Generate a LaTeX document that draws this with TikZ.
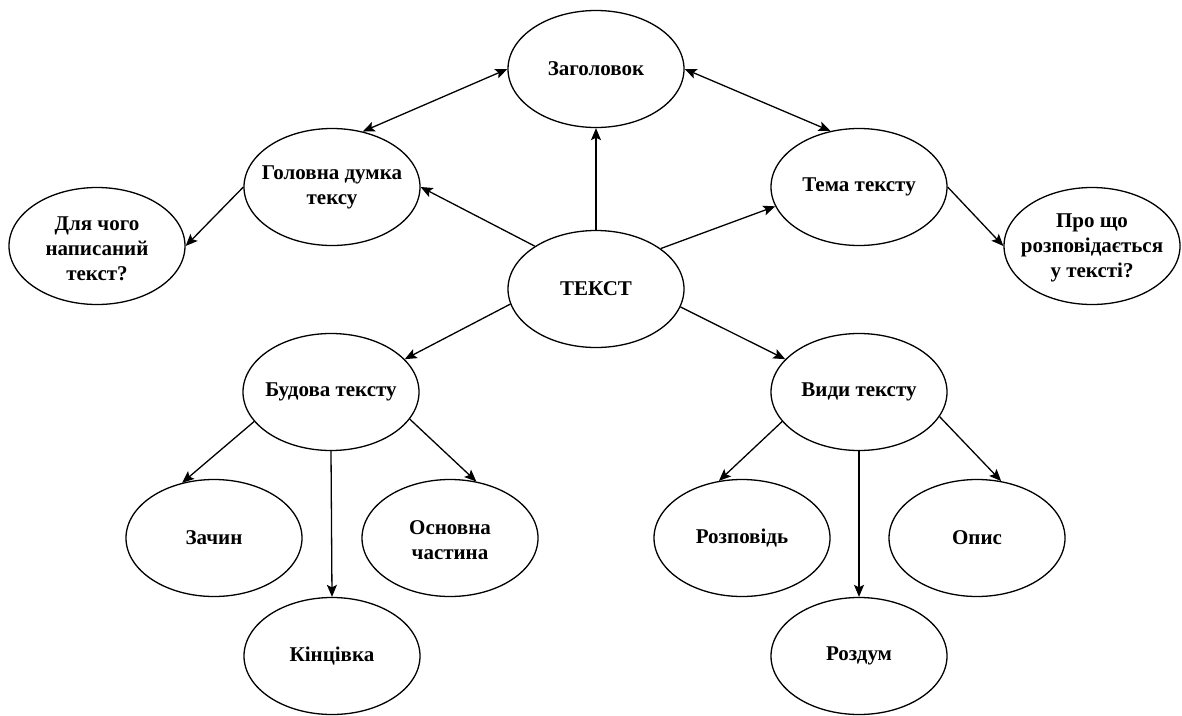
\documentclass[tikz,border=0pt]{standalone}
\usepackage{fontspec}
\setmainfont{Liberation Serif}
\usetikzlibrary{shapes.geometric,arrows.meta}
\tikzset{
  ell/.style={draw=black, line width=1.3pt, ellipse, inner sep=0pt,
              minimum width=176pt, minimum height=117pt},
  lbl/.style={align=center, inner sep=0pt,
              font=\bfseries\fontsize{21}{25}\selectfont},
  conn/.style={draw=black, line width=1.3pt,
               -{Stealth[length=12pt,width=10pt,inset=2.5pt]}},
  biconn/.style={draw=black, line width=1.3pt,
               {Stealth[length=12pt,width=10pt,inset=2.5pt]}-{Stealth[length=12pt,width=10pt,inset=2.5pt]}}
}
\begin{document}
\begin{tikzpicture}[x=1pt,y=-1pt]
\useasboundingbox (0,0) rectangle (1182,715);
\fill[white] (0,0) rectangle (1182,715);
% ellipses
\node[ell] (zag)   at (596,69)  {};
\node[ell] (gol)   at (332,187) {};
\node[ell] (tema)  at (859,187) {};
\node[ell] (dlya)  at (97,246)  {};
\node[ell] (pro)   at (1092,246) {};
\node[ell] (tekst) at (596,289) {};
\node[ell] (bud)   at (331,392) {};
\node[ell] (vydy)  at (859,392) {};
\node[ell] (zach)  at (214,538) {};
\node[ell] (osn)   at (450,538) {};
\node[ell] (kin)   at (332,656) {};
\node[ell] (rozp)  at (742,538) {};
\node[ell] (opys)  at (977,538) {};
\node[ell] (rozd)  at (859,656) {};
% labels
\node[lbl] (zag-t)   at (zag)   {Заголовок};
\node[lbl] (gol-t)   at (gol)   {Головна думка\\тексу};
\node[lbl] (tema-t)  at (tema)  {Тема тексту};
\node[lbl] (dlya-t)  at ([yshift=-3pt]dlya.center) {Для чого\\написаний\\текст?};
\node[lbl] (pro-t)   at ([yshift=-2pt]pro.center)  {Про що\\розповідається\\у тексті?};
\node[lbl] (tekst-t) at (tekst) {ТЕКСТ};
\node[lbl] (bud-t)   at (bud)   {Будова тексту};
\node[lbl] (vydy-t)  at (vydy)  {Види тексту};
\node[lbl] (zach-t)  at (zach)  {Зачин};
\node[lbl] (osn-t)   at ([yshift=-2pt]osn.center) {Основна\\частина};
\node[lbl] (kin-t)   at (kin)   {Кінцівка};
\node[lbl] (rozp-t)  at (rozp)  {Розповідь};
\node[lbl] (opys-t)  at (opys)  {Опис};
\node[lbl] (rozd-t)  at (rozd)  {Роздум};
% connectors
\draw[biconn] (gol.61) -- (zag.west);
\draw[biconn] (tema.117) -- (zag.east);
\draw[conn] (tekst.north) -- (zag.south);
\draw[conn] (tekst.145) -- (gol.east);
\draw[conn] (tekst.32) -- (tema.193);
\draw[conn] (tekst.190) -- (bud.24);
\draw[conn] (tekst.348) -- (vydy.156);
\draw[conn] (gol.west) -- (dlya.east);
\draw[conn] (tema.east) -- (pro.west);
\draw[conn] (bud.201) -- (zach.120);
\draw[conn] (bud.south) -- (kin.north);
\draw[conn] (bud.341) -- (osn.65);
\draw[conn] (vydy.201) -- (rozp.112);
\draw[conn] (vydy.south) -- (rozd.north);
\draw[conn] (vydy.343) -- (opys.67);
\end{tikzpicture}
\end{document}
